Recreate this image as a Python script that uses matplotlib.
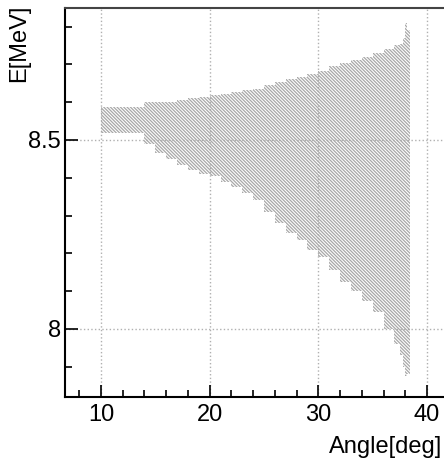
import numpy as np
import matplotlib
matplotlib.use('Agg')
import matplotlib.pyplot as plt
from matplotlib.ticker import MultipleLocator

plt.rcParams['font.family'] = ['Liberation Sans', 'DejaVu Sans']
plt.rcParams['hatch.linewidth'] = 0.9

# band edges (step histogram, left edge of each bin)
angle = [10, 11, 12, 13, 14, 15, 16, 17, 18, 19, 20, 21, 22, 23, 24, 25, 26,
         27, 28, 29, 30, 31, 32, 33, 34, 35, 36, 37, 37.5, 37.8, 38.0, 38.2]
e_low = [8.518, 8.518, 8.518, 8.518, 8.49, 8.465, 8.45, 8.435, 8.42, 8.41,
         8.405, 8.39, 8.376, 8.36, 8.34, 8.31, 8.28, 8.255, 8.235, 8.21,
         8.19, 8.155, 8.125, 8.10, 8.075, 8.045, 8.00, 7.96, 7.93, 7.90,
         7.875, 7.88]
e_up = [8.587, 8.587, 8.587, 8.587, 8.60, 8.60, 8.60, 8.605, 8.61, 8.614,
        8.618, 8.622, 8.626, 8.632, 8.636, 8.645, 8.652, 8.66, 8.667, 8.675,
        8.683, 8.695, 8.704, 8.712, 8.72, 8.73, 8.74, 8.75, 8.755, 8.77,
        8.81, 8.79]
angle_end = 38.45

x = np.append(angle, angle_end)
lo = np.append(e_low, e_low[-1])
hi = np.append(e_up, e_up[-1])

fig = plt.figure(figsize=(4.44, 4.62), dpi=100)
ax = fig.add_axes([65/444, 1 - 397/462, 1 - 65/444, (397 - 8)/462])

ax.fill_between(x, lo, hi, step='post', facecolor='none', edgecolor='#a8a8a8',
                hatch='\\' * 10, linewidth=0)

ax.set_xlim(6.69, 41.56)
ax.set_ylim(7.82, 8.849)

ax.xaxis.set_major_locator(MultipleLocator(10))
ax.xaxis.set_minor_locator(MultipleLocator(2))
ax.yaxis.set_major_locator(MultipleLocator(0.5))
ax.yaxis.set_minor_locator(MultipleLocator(0.1))
ax.set_yticks([8, 8.5])
ax.set_yticklabels(['8', '8.5'])

ax.tick_params(which='both', direction='in', top=False, right=False,
               labelsize=17, width=1.2)
ax.tick_params(which='major', length=9)
ax.tick_params(which='minor', length=5)
ax.tick_params(axis='x', pad=5)
ax.tick_params(axis='y', pad=3)

ax.grid(True, which='major', color='#b0b0b0', linestyle=':', linewidth=1)
ax.set_axisbelow(True)

ax.spines['right'].set_visible(False)
for s in ['left', 'bottom', 'top']:
    ax.spines[s].set_linewidth(1.5)
ax.spines['top'].set_color('#444444')

# axis titles, ROOT style (right / top aligned)
fig.text(442/444, 1 - 447/462, 'Angle[deg]', fontsize=17, ha='right', va='center')
fig.text(19/444, 1 - 5/462, 'E[MeV]', fontsize=17, rotation=90,
         ha='center', va='top')

fig.savefig('out.png', dpi=100)
